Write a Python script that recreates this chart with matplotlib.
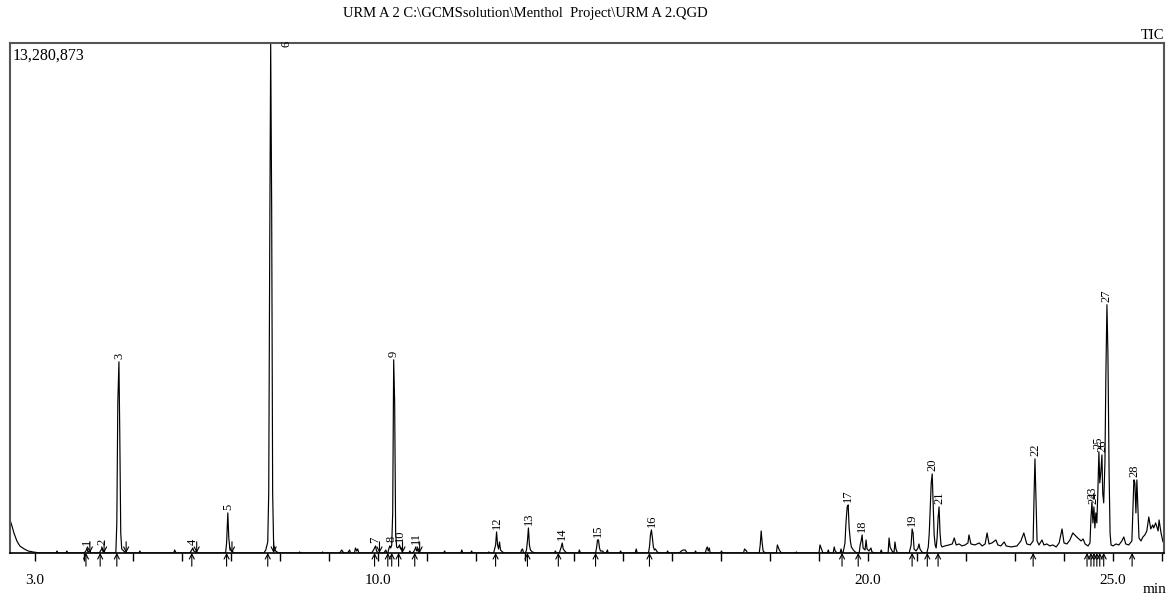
import numpy as np
import matplotlib.pyplot as plt

plt.rcParams['font.family'] = ['Liberation Serif', 'DejaVu Serif']

# TIC trace: retention time (min) and intensity (x1000 counts)
rt_min = [
    2.49, 2.53, 2.57, 2.63, 2.69, 2.78, 2.86, 2.96, 3.10, 3.43, 3.45, 3.47, 3.63, 3.65, 3.67,
    4.00, 4.04, 4.06, 4.08, 4.12, 4.14, 4.31, 4.35, 4.37, 4.39, 4.41, 4.43, 4.65, 4.67, 4.69, 4.713, 4.73, 4.75, 4.77, 4.81, 4.86,
    5.12, 5.14, 5.16, 5.83, 5.85, 5.88, 6.16, 6.20, 6.22, 6.24, 6.28, 6.32, 6.89, 6.91, 6.935, 6.955, 6.98, 7.02, 7.06,
    7.67, 7.71, 7.75, 7.77, 7.79, 7.81, 7.83, 7.85, 7.87, 7.91, 7.97,
    8.38, 8.40, 8.42, 8.85, 8.87, 8.89, 9.22, 9.26, 9.30, 9.38, 9.42, 9.44, 9.52, 9.54, 9.565, 9.585, 9.61,
    9.87, 9.91, 9.95, 9.97, 10.01, 10.12, 10.16, 10.18, 10.20, 10.22, 10.24, 10.26, 10.28, 10.30, 10.32, 10.34, 10.36,
    10.38, 10.40, 10.42, 10.44, 10.46, 10.48, 10.50, 10.63, 10.65, 10.67, 10.71, 10.75, 10.77, 10.79, 10.81, 10.83,
    11.34, 11.36, 11.38, 11.69, 11.71, 11.73, 11.89, 11.91, 11.93, 12.24, 12.26, 12.28,
    12.36, 12.40, 12.42, 12.44, 12.46, 12.48, 12.50, 12.54, 12.58, 12.91, 12.93, 12.95, 12.97, 13.01, 13.03, 13.05, 13.07, 13.09, 13.11, 13.15, 13.21,
    13.60, 13.62, 13.64, 13.70, 13.72, 13.74, 13.76, 13.78, 13.81, 13.85, 14.09, 14.11, 14.13, 14.44, 14.46, 14.48, 14.50, 14.52, 14.54, 14.58,
    14.62, 14.66, 14.68, 14.70, 14.93, 14.95, 14.97, 15.25, 15.27, 15.29, 15.52, 15.54, 15.56, 15.58, 15.60, 15.62, 15.64, 15.66, 15.70, 15.74,
    15.89, 15.91, 15.93, 16.15, 16.19, 16.23, 16.27, 16.31, 16.46, 16.48, 16.50, 16.68, 16.70, 16.72, 16.74, 16.76, 16.78, 16.99, 17.01, 17.03, 17.46, 17.48, 17.52, 17.54,
    17.78, 17.80, 17.82, 17.84, 17.86, 17.90, 18.13, 18.15, 18.19, 18.23, 18.52, 18.54, 18.56, 19.00, 19.02, 19.05, 19.08, 19.17, 19.19, 19.21, 19.29, 19.31, 19.33, 19.37, 19.43, 19.45, 19.47,
    19.49, 19.53, 19.55, 19.575, 19.595, 19.615, 19.64, 19.66, 19.70, 19.74, 19.78, 19.82, 19.84, 19.86, 19.88, 19.90, 19.94, 19.96, 19.98, 20.02, 20.06, 20.08, 20.15,
    20.25, 20.27, 20.29, 20.41, 20.43, 20.45, 20.49, 20.53, 20.55, 20.57, 20.60, 20.84, 20.88, 20.90, 20.92, 20.94, 20.98, 21.02, 21.04,
    21.06, 21.10, 21.14, 21.20, 21.23, 21.25, 21.27, 21.29, 21.31, 21.33, 21.35, 21.37, 21.39, 21.41, 21.43, 21.45, 21.47, 21.49, 21.51,
    21.57, 21.65, 21.72, 21.76, 21.80, 21.86, 21.92, 21.98, 22.04, 22.06, 22.10, 22.18, 22.27, 22.33, 22.39,
    22.43, 22.47, 22.53, 22.61, 22.65, 22.71, 22.78, 22.82, 22.92, 23.04, 23.12, 23.18, 23.24, 23.31,
    23.37, 23.39, 23.407, 23.43, 23.45, 23.49, 23.55, 23.59, 23.65, 23.71, 23.77, 23.84, 23.90, 23.96, 24.00, 24.06, 24.12, 24.18, 24.22, 24.28, 24.35, 24.39, 24.43, 24.49,
    24.53, 24.55, 24.57, 24.59, 24.61, 24.63, 24.65, 24.67, 24.69, 24.712, 24.73, 24.75, 24.774, 24.79, 24.81, 24.835, 24.855, 24.876, 24.896, 24.92, 24.94, 24.96,
    25.00, 25.06, 25.12, 25.18, 25.22, 25.26, 25.32, 25.385, 25.426, 25.446, 25.467, 25.487, 25.507, 25.53,
    25.57, 25.61, 25.65, 25.69, 25.73, 25.77, 25.81, 25.83, 25.87, 25.92, 25.94, 25.98, 26.02, 26.04,
]
tic_k = [
    861, 705, 522, 313, 183, 104, 52, 26, 0, 0, 52, 0, 0, 52, 0,
    0, 52, 130, 26, 52, 0, 0, 78, 130, 26, 52, 0, 0, 783, 3914, 4983, 3131, 522, 104, 52, 0,
    0, 52, 0, 0, 78, 0, 0, 78, 130, 52, 26, 0, 0, 261, 1044, 391, 78, 52, 0,
    0, 78, 287, 1566, 7827, 13281, 9000, 1566, 209, 52, 0,
    0, 26, 0, 0, 26, 0, 0, 78, 0, 0, 78, 0, 0, 130, 52, 104, 0,
    0, 78, 183, 52, 0, 0, 78, 0, 0, 104, 183, 130, 209, 1044, 5036, 3914, 522,
    157, 130, 157, 209, 104, 130, 0, 0, 52, 0, 0, 78, 157, 52, 104, 0,
    0, 52, 0, 0, 78, 0, 0, 52, 0, 0, 26, 0,
    0, 209, 548, 209, 104, 287, 78, 26, 0, 0, 78, 104, 0, 0, 78, 313, 652, 209, 78, 26, 0,
    0, 52, 0, 0, 78, 157, 261, 104, 52, 0, 0, 78, 0, 0, 130, 339, 339, 130, 52, 52,
    0, 0, 78, 0, 0, 52, 0, 0, 104, 0, 0, 157, 470, 600, 391, 157, 78, 104, 26, 0,
    0, 52, 0, 0, 52, 78, 78, 0, 0, 52, 0, 0, 104, 157, 52, 130, 0, 0, 52, 0, 0, 104, 52, 0,
    0, 209, 574, 261, 52, 0, 0, 209, 78, 0, 0, 26, 0, 0, 209, 104, 0, 0, 78, 0, 0, 157, 52, 0, 0, 104, 0,
    0, 261, 783, 1200, 1252, 652, 313, 157, 78, 26, 0, 0, 209, 313, 470, 130, 78, 339, 104, 52, 130, 26, 0,
    0, 78, 0, 0, 391, 157, 52, 0, 287, 104, 0, 0, 209, 626, 522, 104, 52, 130, 235,
    104, 26, 0, 0, 157, 522, 1174, 1826, 2061, 1305, 470, 209, 131, 391, 913, 1200, 522, 209, 157,
    183, 209, 235, 391, 209, 235, 183, 209, 261, 470, 235, 209, 261, 183, 235,
    522, 235, 261, 339, 209, 183, 287, 183, 157, 183, 313, 522, 235, 209,
    313, 1566, 2453, 1305, 313, 209, 339, 209, 235, 183, 209, 157, 261, 626, 261, 235, 339, 522, 470, 391, 313, 365, 235, 183,
    261, 913, 1331, 783, 1200, 652, 1044, 783, 1566, 2635, 1826, 2087, 2557, 1566, 1305, 2348, 4696, 6471, 5218, 2087, 522, 209,
    183, 235, 209, 313, 417, 235, 209, 313, 1905, 1826, 1044, 1905, 1174, 391,
    313, 417, 470, 574, 939, 626, 731, 652, 783, 574, 861, 522, 287, 313,
]

# labelled peaks: number, apex time, apex intensity (x1000 counts)
peak_no = list(range(1, 29))
peak_rt = [4.06, 4.37, 4.713, 6.22, 6.935, 7.81, 9.95, 10.28, 10.32, 10.44, 10.77, 12.42, 13.07, 13.76,
           14.49, 15.58, 19.595, 19.88, 20.90, 21.31, 21.45, 23.407, 24.57, 24.61, 24.712, 24.774, 24.876, 25.446]
peak_top_k = [130, 130, 4983, 130, 1044, 13281, 183, 209, 5036, 209, 157, 548, 652, 261,
              339, 600, 1252, 470, 626, 2061, 1200, 2453, 1331, 1200, 2635, 2557, 6471, 1905]

# integration marks (peak start = up arrow below baseline, peak end = down arrow)
start_rt = [4.04, 4.33, 4.67, 6.20, 6.91, 7.75, 9.93, 10.20, 10.28, 10.42, 10.75, 12.40, 13.05, 13.68, 14.44,
            15.54, 19.47, 19.80, 20.90, 21.21, 21.43, 23.37, 24.47, 24.55, 24.61, 24.67, 24.73, 24.81, 25.39]
end_rt = [4.12, 4.41, 4.86, 6.30, 7.02, 7.87, 10.03, 10.50, 10.85]

full_scale = 13280873
tick_vals = [3, 10, 20, 25]
tick_text = ['3.0', '10.0', '20.0', '25.0']

assert len(rt_min) == len(tic_k)

fig = plt.figure(figsize=(11.7, 5.98), dpi=100)
ax = fig.add_axes([0.00855, 0.0753, 0.9863, 0.852])

ax.plot(rt_min, np.array(tic_k) * 1000, color='black', lw=0.85)
ax.set_xlim(2.49, 26.04)
ax.set_ylim(0, full_scale)

for n, t, h in zip(peak_no, peak_rt, peak_top_k):
    y = h * 1000
    if y >= full_scale:
        ax.text(t + 0.33, full_scale, str(n), rotation=90, ha='center', va='center', fontsize=9)
    else:
        ax.text(t, y + 70000, str(n), rotation=90, ha='center', va='bottom', fontsize=9)

trans = ax.get_xaxis_transform()
arrow = dict(arrowstyle='->, head_length=0.35, head_width=0.18', lw=0.8, color='black',
             shrinkA=0, shrinkB=0)
for t in start_rt:
    ax.annotate('', xy=(t, 0), xytext=(t, -0.026), xycoords=trans, textcoords=trans,
                annotation_clip=False, arrowprops=arrow)
for t in end_rt:
    ax.annotate('', xy=(t, 0), xytext=(t, 0.022), xycoords=trans, textcoords=trans,
                annotation_clip=False, arrowprops=arrow)

ax.set_xticks(tick_vals)
ax.set_xticklabels(tick_text, fontsize=11)
ax.set_xticks(np.arange(3, 27), minor=True)
ax.tick_params(axis='x', which='both', direction='out', length=6, width=1, color='black', pad=9)
ax.set_yticks([])

for side in ['left', 'top', 'right']:
    ax.spines[side].set_color('#555555')
    ax.spines[side].set_linewidth(1.5)
ax.spines['bottom'].set_color('black')
ax.spines['bottom'].set_linewidth(1.2)

ax.text(0.0026, 0.977, '13,280,873', transform=ax.transAxes, ha='left', va='center', fontsize=11.5)
fig.text(0.4487, 0.978, r'URM A 2 C:\GCMSsolution\Menthol  Project\URM A 2.QGD',
         ha='center', va='center', fontsize=10.5)
fig.text(0.9955, 0.941, 'TIC', ha='right', va='center', fontsize=10.5)
fig.text(0.9966, 0.0134, 'min', ha='right', va='center', fontsize=11)

plt.savefig('out.png', dpi=100)
